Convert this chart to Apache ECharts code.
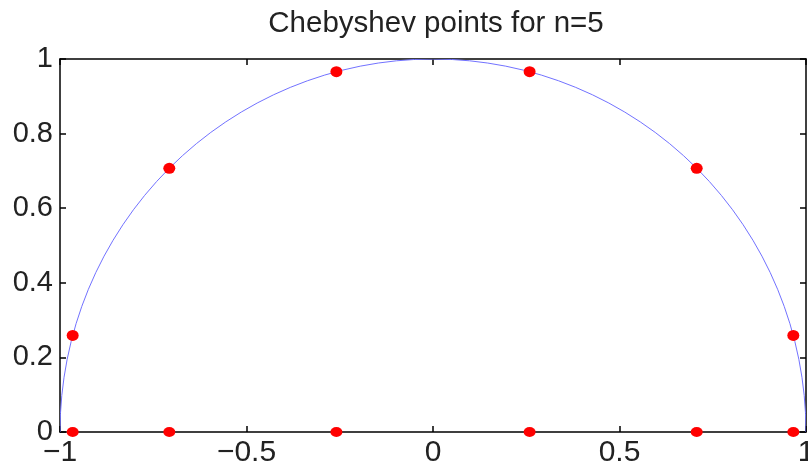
<!DOCTYPE html>
<html>
<head>
<meta charset="utf-8">
<script src="https://cdn.jsdelivr.net/npm/echarts@6/dist/echarts.min.js"></script>
<style>
  html, body { margin: 0; padding: 0; background: #fff; }
  #chart { width: 808px; height: 467px; }
</style>
</head>
<body>
<div id="chart"></div>
<script>
// Chebyshev nodes for n = 5 on the unit semicircle and their projections on the x-axis
const nodeX = [-0.966, -0.707, -0.259, 0.259, 0.707, 0.966];
const nodeY = [0.259, 0.707, 0.966, 0.966, 0.707, 0.259];
const axisY = [0, 0, 0, 0, 0, 0];
// unit circle: centre x, centre y, radius
const circle = [[0, 0, 1]];
const xTicks = [-1, -0.5, 0, 0.5, 1];
const yTicks = [0, 0.2, 0.4, 0.6, 0.8, 1];

const FONT = '"Liberation Sans", Arial, sans-serif';
const TXT = '#222';

const fmt = v => String(v).replace('-', '\u2212');

const axisLineStyle = { onZero: false, lineStyle: { color: '#000', width: 1.5 } };
const tickStyle = { inside: true, length: 6, lineStyle: { color: '#000', width: 1.5 } };

const chart = echarts.init(document.getElementById('chart'), null, { renderer: 'canvas' });
chart.setOption({
  backgroundColor: '#fff',
  animation: false,
  title: {
    text: 'Chebyshev points for n=5',
    left: 431, top: 4, textAlign: 'center',
    textStyle: { fontFamily: FONT, fontSize: 29.5, fontWeight: 'normal', color: TXT }
  },
  grid: { left: 60, right: 2, top: 59, bottom: 35, containLabel: false, outerBoundsMode: 'none' },
  xAxis: [
    {
      type: 'value', min: -1, max: 1, interval: 0.5, position: 'bottom',
      axisLine: axisLineStyle, axisTick: tickStyle, splitLine: { show: false },
      axisLabel: {
        fontFamily: FONT, fontSize: 30, color: TXT, margin: 6,
        showMinLabel: true, showMaxLabel: true, hideOverlap: false,
        formatter: v => xTicks.includes(v) ? fmt(v) : ''
      }
    },
    {
      type: 'value', min: -1, max: 1, interval: 0.5, position: 'top',
      axisLine: axisLineStyle, axisTick: tickStyle, splitLine: { show: false },
      axisLabel: { show: false }
    }
  ],
  yAxis: [
    {
      type: 'value', min: 0, max: 1, interval: 0.2, position: 'left',
      axisLine: axisLineStyle, axisTick: tickStyle, splitLine: { show: false },
      axisLabel: {
        fontFamily: FONT, fontSize: 29, color: TXT, margin: 7,
        showMinLabel: true, showMaxLabel: true, hideOverlap: false,
        formatter: v => {
          const t = yTicks.find(y => Math.abs(y - v) < 1e-9);
          return t === undefined ? '' : String(t);
        }
      }
    },
    {
      type: 'value', min: 0, max: 1, interval: 0.2, position: 'right',
      axisLine: axisLineStyle, axisTick: tickStyle, splitLine: { show: false },
      axisLabel: { show: false }
    }
  ],
  series: [
    {
      // upper half of the unit circle, drawn as an elliptical arc in pixel space
      type: 'custom',
      xAxisIndex: 0, yAxisIndex: 0,
      data: circle,
      clip: true,
      renderItem: (params, api) => {
        const c = api.coord([api.value(0), api.value(1)]);
        const r = api.value(2);
        const e = api.coord([api.value(0) + r, api.value(1) + r]);
        const rx = e[0] - c[0];
        const ry = c[1] - e[1];
        return {
          type: 'path',
          shape: {
            pathData: `M ${c[0] - rx} ${c[1]} A ${rx} ${ry} 0 0 1 ${c[0] + rx} ${c[1]}`
          },
          style: { fill: null, stroke: '#7272ff', lineWidth: 1 }
        };
      },
      z: 2
    },
    {
      type: 'scatter',
      xAxisIndex: 0, yAxisIndex: 0,
      data: nodeX.map((x, i) => [x, nodeY[i]]),
      symbol: 'circle', symbolSize: [12, 11],
      itemStyle: { color: '#ff0000', opacity: 1 },
      z: 3
    },
    {
      type: 'scatter',
      xAxisIndex: 0, yAxisIndex: 0,
      data: nodeX.map((x, i) => [x, axisY[i]]),
      symbol: 'circle', symbolSize: [12, 10],
      itemStyle: { color: '#ff0000', opacity: 1 },
      clip: false,
      z: 3
    }
  ]
});
</script>
</body>
</html>
